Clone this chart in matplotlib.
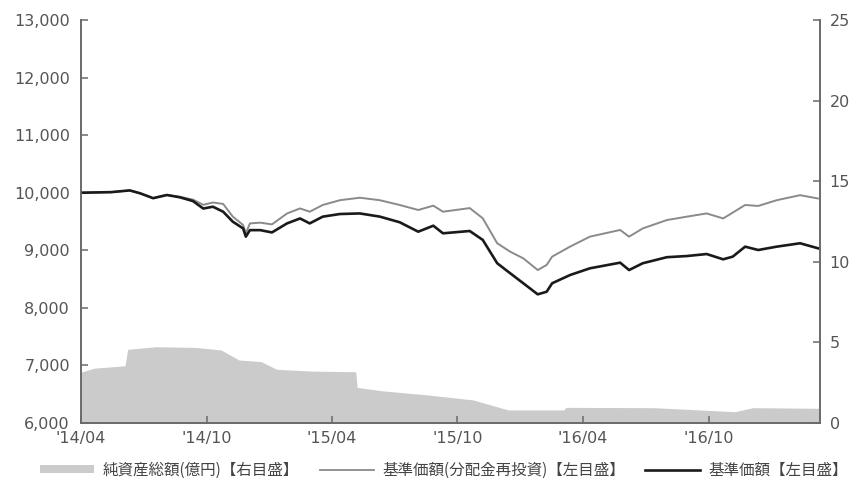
import matplotlib
matplotlib.use('Agg')
import matplotlib.pyplot as plt
from matplotlib.patches import Patch
from matplotlib.lines import Line2D
import pandas as pd
from matplotlib.ticker import FuncFormatter

plt.rcParams['font.family'] = ['DejaVu Sans', 'Noto Sans CJK JP']

# 基準価額 (black)
nav_dates = ['2014-04-01', '2014-05-15', '2014-06-11', '2014-06-26', '2014-07-15', '2014-08-04',
             '2014-08-23', '2014-09-11', '2014-09-26', '2014-10-10', '2014-10-25', '2014-11-08',
             '2014-11-23', '2014-11-27', '2014-12-03', '2014-12-18', '2015-01-04', '2015-01-26',
             '2015-02-14', '2015-02-28', '2015-03-19', '2015-04-13', '2015-05-12', '2015-06-10',
             '2015-07-09', '2015-08-05', '2015-08-27', '2015-09-10', '2015-10-19', '2015-11-07',
             '2015-11-28', '2015-12-17', '2016-01-05', '2016-01-26', '2016-02-08', '2016-02-16',
             '2016-03-13', '2016-04-11', '2016-05-25', '2016-06-07', '2016-06-27', '2016-08-01',
             '2016-08-30', '2016-09-28', '2016-10-22', '2016-11-05', '2016-11-23', '2016-12-12',
             '2017-01-08', '2017-02-11', '2017-03-09']
nav_values = [10000, 10010, 10040, 9990, 9905, 9960,
              9920, 9855, 9725, 9757, 9670, 9497,
              9380, 9237, 9350, 9350, 9310, 9467,
              9553, 9467, 9584, 9630, 9640, 9585,
              9487, 9323, 9427, 9295, 9335, 9180,
              8775, 8600, 8427, 8235, 8280, 8427,
              8570, 8687, 8785, 8657, 8775, 8880,
              8900, 8935, 8843, 8890, 9063, 9005,
              9063, 9122, 9035]

# 基準価額(分配金再投資) (gray)
reinv_values = [10000, 10010, 10040, 9990, 9905, 9962,
                9930, 9880, 9790, 9830, 9805, 9585,
                9440, 9295, 9467, 9480, 9450, 9640,
                9727, 9670, 9787, 9870, 9913, 9870,
                9787, 9700, 9775, 9670, 9733, 9555,
                9122, 8975, 8860, 8657, 8745, 8890,
                9063, 9237, 9353, 9237, 9380, 9525,
                9584, 9640, 9553, 9655, 9787, 9770,
                9870, 9957, 9900]

# 純資産総額(億円)
asset_dates = ['2014-04-01', '2014-04-20', '2014-06-04', '2014-06-08', '2014-07-19', '2014-09-15',
               '2014-10-22', '2014-11-17', '2014-12-19', '2015-01-11', '2015-03-03', '2015-05-06',
               '2015-05-08', '2015-06-13', '2015-08-19', '2015-10-24', '2015-12-14', '2016-03-04',
               '2016-03-07', '2016-07-13', '2016-09-18', '2016-11-08', '2016-12-04', '2017-03-12']
asset_values = [3.15, 3.4, 3.55, 4.57, 4.73, 4.69,
                4.53, 3.91, 3.81, 3.33, 3.22, 3.18,
                2.21, 2.0, 1.74, 1.43, 0.81, 0.81,
                0.97, 0.95, 0.81, 0.70, 0.95, 0.91]

left_ticks = [6000, 7000, 8000, 9000, 10000, 11000, 12000, 13000]
right_ticks = [0, 5, 10, 15, 20, 25]
x_tick_dates = ['2014-04-01', '2014-10-01', '2015-04-01', '2015-10-01', '2016-04-01', '2016-10-01']
x_tick_labels = ["'14/04", "'14/10", "'15/04", "'15/10", "'16/04", "'16/10"]
legend_labels = ['純資産総額(億円)【右目盛】', '基準価額(分配金再投資)【左目盛】', '基準価額【左目盛】']

spine_c = '#6a6a6a'
text_c = '#555555'
area_c = '#cbcbcb'
gray_c = '#8a8a8a'
black_c = '#1a1a1a'

fig = plt.figure(figsize=(8.63, 4.86), dpi=100)
ax = fig.add_axes([81/863, 63/486, 739/863, 403/486])
ax2 = ax.twinx()

ax2.fill_between(pd.to_datetime(asset_dates), 0, asset_values, color=area_c, linewidth=0)
ax.plot(pd.to_datetime(nav_dates), reinv_values, color=gray_c, lw=1.4)
ax.plot(pd.to_datetime(nav_dates), nav_values, color=black_c, lw=1.9)

ax.set_zorder(ax2.get_zorder() + 1)
ax.patch.set_visible(False)

ax.set_xlim(pd.Timestamp('2014-04-01'), pd.Timestamp('2017-03-12'))
ax.set_ylim(6000, 13000)
ax2.set_ylim(0, 25)

ax.set_yticks(left_ticks)
ax.yaxis.set_major_formatter(FuncFormatter(lambda v, p: f'{int(v):,}'))
ax2.set_yticks(right_ticks)
ax.set_xticks(pd.to_datetime(x_tick_dates))
ax.set_xticklabels(x_tick_labels)

for a in (ax, ax2):
    a.spines['top'].set_visible(False)
    for s in ('left', 'right', 'bottom'):
        a.spines[s].set_color(spine_c)
        a.spines[s].set_linewidth(1.2)
    a.tick_params(direction='in', length=5, width=1.1, color=spine_c,
                  labelsize=11.5, labelcolor=text_c)
ax.tick_params(axis='y', pad=8)
ax.tick_params(axis='x', pad=6)
ax2.tick_params(axis='y', pad=7)

handles = [Patch(facecolor=area_c, edgecolor='none'),
           Line2D([0], [0], color=gray_c, lw=1.3),
           Line2D([0], [0], color=black_c, lw=1.9)]
fig.legend(handles, legend_labels, loc='center', bbox_to_anchor=(444/863, 16/486),
           ncol=3, frameon=False, handlelength=3.5, handleheight=0.4, handletextpad=0.55,
           columnspacing=1.3, prop={'family': ['Noto Sans CJK JP', 'DejaVu Sans'], 'size': 11.2},
           labelcolor='#444444', borderpad=0.2)

fig.savefig('out.png', dpi=100)
